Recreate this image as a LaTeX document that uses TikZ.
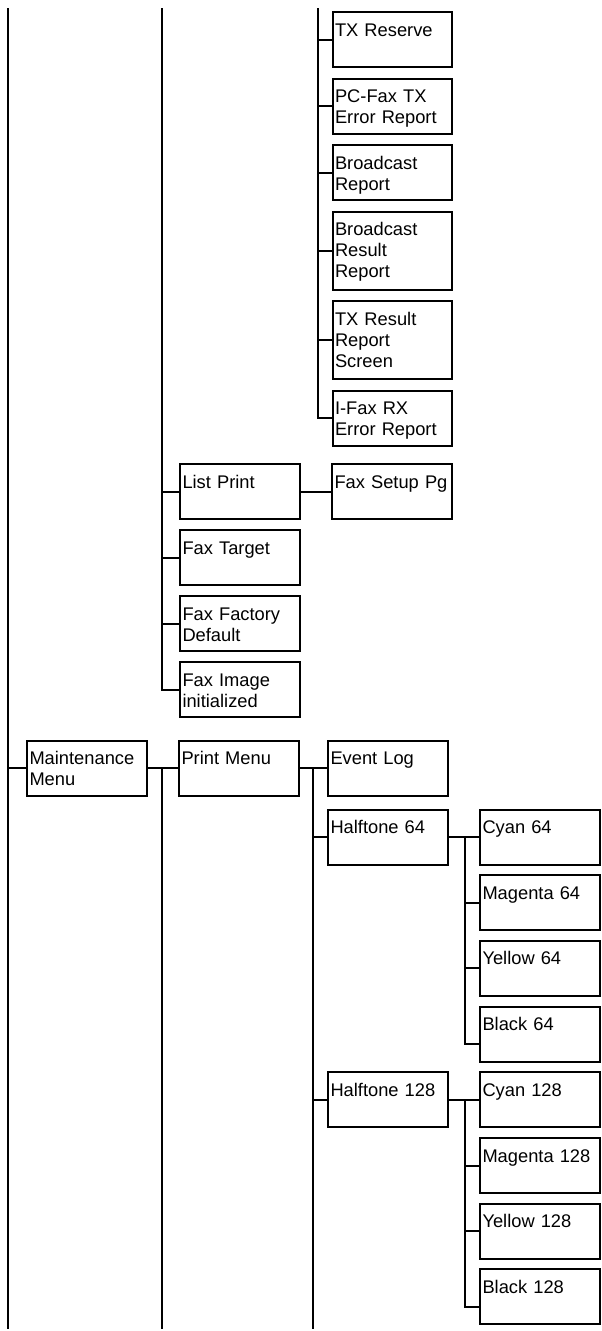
\documentclass[tikz,border=0pt]{standalone}
\usepackage{fontspec}
\setmainfont{Liberation Sans}
\usepackage{tikz}
\usetikzlibrary{positioning}

\newcommand\menufont{\fontsize{18.3pt}{21pt}\selectfont}

\begin{document}
\begin{tikzpicture}[
        x=1pt, y=1pt,
        font=\menufont,
        node distance=9pt and 30.5pt,
        menu/.style={draw, line width=2pt, align=left, text width=114.5pt, inner xsep=2.5pt, inner ysep=0pt, text height=24pt, text depth=31pt},
        tall/.style={text depth=54pt},
        link/.style={line width=2pt}
    ]
        \useasboundingbox (0,0) rectangle (602,-1331);

        % fax reports, upper right
        \node[menu, anchor=north west] (txres) at (331.5,-11) {TX Reserve};
        \node[menu, below=9.5pt of txres] (pcfax) {PC-Fax TX\\Error Report};
        \node[menu, below=9.5pt of pcfax] (bcrep) {Broadcast\\Report};
        \node[menu, tall, below=9.5pt of bcrep] (bcres) {Broadcast\\Result\\Report};
        \node[menu, tall, below=9.5pt of bcres] (txscr) {TX Result\\Report\\Screen};
        \node[menu, below=9.5pt of txscr] (ifax) {I-Fax RX\\Error Report};

        % fax menu items
        \node[menu, anchor=north west] (listpr) at (179,-463) {List Print};
        \node[menu, right=of listpr] (faxsetup) {Fax Setup Pg};
        \node[menu, below=of listpr] (faxtgt) {Fax Target};
        \node[menu, below=of faxtgt] (faxfac) {Fax Factory\\Default};
        \node[menu, below=of faxfac] (faximg) {Fax Image\\initialized};

        % maintenance menu
        \node[menu, anchor=north west] (maint) at (26,-739.5) {Maintenance\\Menu};
        \node[menu, right=of maint] (prmenu) {Print Menu};
        \node[menu, right=27.5pt of prmenu] (evlog) {Event Log};
        \node[menu, below=12pt of evlog] (ht64) {Halftone 64};
        \node[menu, right=of ht64] (cy64) {Cyan 64};
        \node[menu, below=8.7pt of cy64] (mg64) {Magenta 64};
        \node[menu, below=8.7pt of mg64] (yl64) {Yellow 64};
        \node[menu, below=8.7pt of yl64] (bk64) {Black 64};
        \node[menu, below=8.7pt of bk64] (cy128) {Cyan 128};
        \node[menu, left=of cy128] (ht128) {Halftone 128};
        \node[menu, below=8.7pt of cy128] (mg128) {Magenta 128};
        \node[menu, below=8.7pt of mg128] (yl128) {Yellow 128};
        \node[menu, below=8.7pt of yl128] (bk128) {Black 128};

        \coordinate (atop) at (7.5,-8);
        \coordinate (abot) at (7.5,-1329);
        \coordinate (btop) at (162,-8);
        \coordinate (bbot) at (162,-1329);
        \coordinate (ctop) at (318,-8);
        \coordinate (cbot) at (313.3,-1329);
        \coordinate (dcol) at (465,0);

        \draw[link] (atop) -- (abot);
        \draw[link] (maint.west) -- (maint.west -| atop);

        \draw[link] (btop) |- (faximg.west);
        \foreach \n in {listpr,faxtgt,faxfac}
            \draw[link] (\n.west -| btop) -- (\n.west);
        \draw[link] (listpr.east) -- (listpr.east -| faxsetup.west);

        \draw[link] (ctop) |- (ifax.west);
        \foreach \n in {txres,pcfax,bcrep,bcres,txscr}
            \draw[link] (\n.west -| ctop) -- (\n.west);

        \draw[link] (maint.east) -- (maint.east -| prmenu.west);
        \draw[link] (maint.east -| bbot) -- (bbot);
        \draw[link] (prmenu.east) -- (prmenu.east -| evlog.west);
        \draw[link] (prmenu.east -| cbot) -- (cbot);
        \foreach \n in {ht64,ht128}
            \draw[link] (\n.west -| cbot) -- (\n.west);

        \draw[link] (ht64.east) -- (ht64.east -| cy64.west);
        \draw[link] (ht64.east -| dcol) |- ([yshift=19pt]bk64.south west);
        \foreach \n in {mg64,yl64}
            \draw[link] (\n.west -| dcol) -- (\n.west);

        \draw[link] (ht128.east) -- (ht128.east -| cy128.west);
        \draw[link] (ht128.east -| dcol) |- ([yshift=18pt]bk128.south west);
        \foreach \n in {mg128,yl128}
            \draw[link] (\n.west -| dcol) -- (\n.west);
    \end{tikzpicture}
\end{document}
